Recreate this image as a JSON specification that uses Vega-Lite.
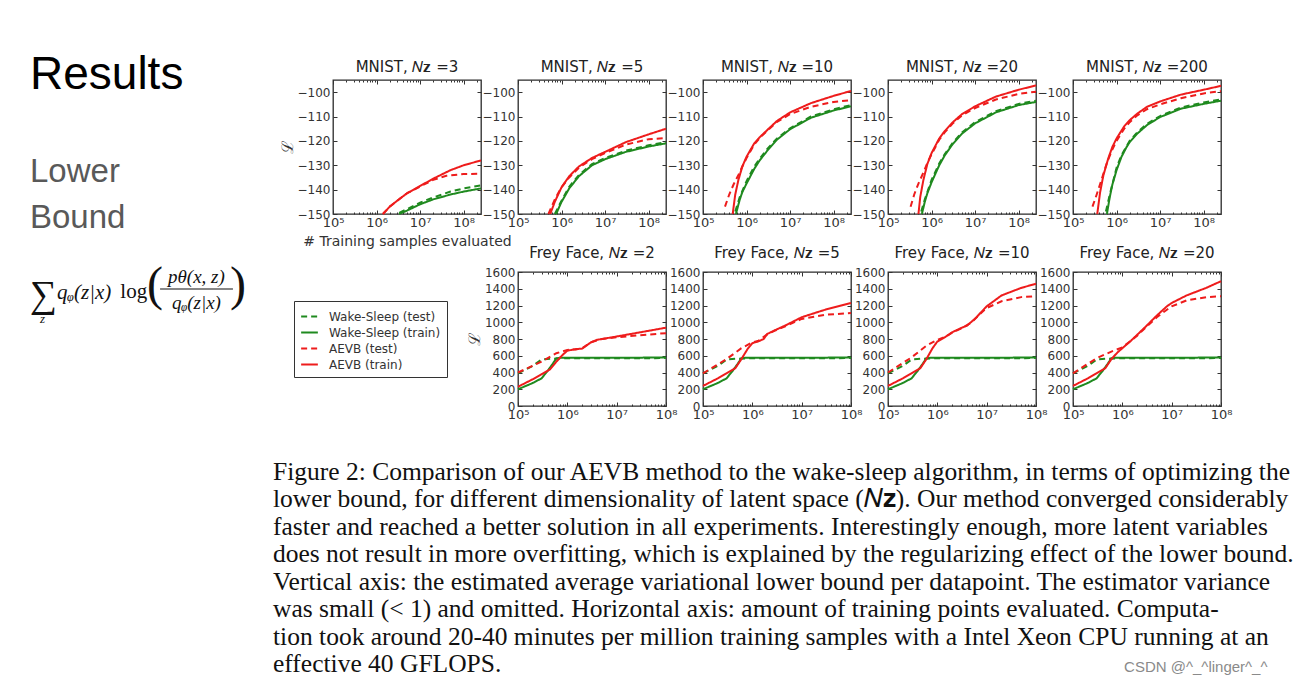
{
"$schema": "https://vega.github.io/schema/vega-lite/v6.json",
"background": "white",
"padding": {"left": 30, "top": 52, "right": 5, "bottom": 5},
"config": {
  "view": {"stroke": null},
  "font": "DejaVu Sans",
  "axis": {"labelFont": "DejaVu Sans", "labelFontSize": 12, "labelColor": "#333", "tickColor": "#333", "tickSize": -4, "labelPadding": 7, "domain": false, "grid": false, "titleFont": "DejaVu Sans", "titleFontWeight": "normal", "titleColor": "#333", "labelFlush": false, "labelOverlap": false},
  "axisX": {"labelFontSize": 13, "labelPadding": 6},
  "title": {"font": "DejaVu Sans", "fontSize": 15, "fontWeight": "normal", "color": "#222", "offset": 5},
  "line": {"strokeWidth": 2, "clip": true}
},
"datasets": {
  "mnist": [
    {"nz":3,"s":"Wake-Sleep (test)","x":3.3e6,"y":-149.5},{"nz":3,"s":"Wake-Sleep (test)","x":5e6,"y":-148},{"nz":3,"s":"Wake-Sleep (test)","x":1e7,"y":-145.3},{"nz":3,"s":"Wake-Sleep (test)","x":2e7,"y":-143.2},{"nz":3,"s":"Wake-Sleep (test)","x":5e7,"y":-140.8},{"nz":3,"s":"Wake-Sleep (test)","x":1e8,"y":-139.5},{"nz":3,"s":"Wake-Sleep (test)","x":2.5e8,"y":-138.2},
    {"nz":3,"s":"Wake-Sleep (train)","x":3.3e6,"y":-150},{"nz":3,"s":"Wake-Sleep (train)","x":5e6,"y":-148.6},{"nz":3,"s":"Wake-Sleep (train)","x":1e7,"y":-146},{"nz":3,"s":"Wake-Sleep (train)","x":2e7,"y":-144},{"nz":3,"s":"Wake-Sleep (train)","x":5e7,"y":-142},{"nz":3,"s":"Wake-Sleep (train)","x":1e8,"y":-140.8},{"nz":3,"s":"Wake-Sleep (train)","x":2.5e8,"y":-139.5},
    {"nz":3,"s":"AEVB (test)","x":1.4e6,"y":-150},{"nz":3,"s":"AEVB (test)","x":2e6,"y":-147},{"nz":3,"s":"AEVB (test)","x":3e6,"y":-144.5},{"nz":3,"s":"AEVB (test)","x":5e6,"y":-141.5},{"nz":3,"s":"AEVB (test)","x":1e7,"y":-138.7},{"nz":3,"s":"AEVB (test)","x":2e7,"y":-136},{"nz":3,"s":"AEVB (test)","x":4e7,"y":-134.3},{"nz":3,"s":"AEVB (test)","x":1e8,"y":-133.6},{"nz":3,"s":"AEVB (test)","x":2.5e8,"y":-133.5},
    {"nz":3,"s":"AEVB (train)","x":1.4e6,"y":-150},{"nz":3,"s":"AEVB (train)","x":2e6,"y":-147},{"nz":3,"s":"AEVB (train)","x":3e6,"y":-144.5},{"nz":3,"s":"AEVB (train)","x":5e6,"y":-141.5},{"nz":3,"s":"AEVB (train)","x":1e7,"y":-138.5},{"nz":3,"s":"AEVB (train)","x":2e7,"y":-135.5},{"nz":3,"s":"AEVB (train)","x":5e7,"y":-132},{"nz":3,"s":"AEVB (train)","x":1e8,"y":-130},{"nz":3,"s":"AEVB (train)","x":2.5e8,"y":-128},

    {"nz":5,"s":"Wake-Sleep (test)","x":7e5,"y":-150},{"nz":5,"s":"Wake-Sleep (test)","x":1e6,"y":-144.5},{"nz":5,"s":"Wake-Sleep (test)","x":1.5e6,"y":-138.8},{"nz":5,"s":"Wake-Sleep (test)","x":2.5e6,"y":-134},{"nz":5,"s":"Wake-Sleep (test)","x":5e6,"y":-129.5},{"nz":5,"s":"Wake-Sleep (test)","x":1e7,"y":-127},{"nz":5,"s":"Wake-Sleep (test)","x":3e7,"y":-124},{"nz":5,"s":"Wake-Sleep (test)","x":1e8,"y":-121.8},{"nz":5,"s":"Wake-Sleep (test)","x":2.5e8,"y":-120.5},
    {"nz":5,"s":"Wake-Sleep (train)","x":7.5e5,"y":-150},{"nz":5,"s":"Wake-Sleep (train)","x":1e6,"y":-145},{"nz":5,"s":"Wake-Sleep (train)","x":1.5e6,"y":-139.5},{"nz":5,"s":"Wake-Sleep (train)","x":2.5e6,"y":-134.5},{"nz":5,"s":"Wake-Sleep (train)","x":5e6,"y":-130},{"nz":5,"s":"Wake-Sleep (train)","x":1e7,"y":-127.5},{"nz":5,"s":"Wake-Sleep (train)","x":3e7,"y":-124.5},{"nz":5,"s":"Wake-Sleep (train)","x":1e8,"y":-122.3},{"nz":5,"s":"Wake-Sleep (train)","x":2.5e8,"y":-121},
    {"nz":5,"s":"AEVB (test)","x":5e5,"y":-150},{"nz":5,"s":"AEVB (test)","x":7e5,"y":-144},{"nz":5,"s":"AEVB (test)","x":1e6,"y":-139},{"nz":5,"s":"AEVB (test)","x":1.5e6,"y":-135},{"nz":5,"s":"AEVB (test)","x":2.5e6,"y":-131},{"nz":5,"s":"AEVB (test)","x":5e6,"y":-127.5},{"nz":5,"s":"AEVB (test)","x":1e7,"y":-125},{"nz":5,"s":"AEVB (test)","x":3e7,"y":-121.5},{"nz":5,"s":"AEVB (test)","x":1e8,"y":-119.3},{"nz":5,"s":"AEVB (test)","x":2.5e8,"y":-118.8},
    {"nz":5,"s":"AEVB (train)","x":5.5e5,"y":-150},{"nz":5,"s":"AEVB (train)","x":7e5,"y":-145},{"nz":5,"s":"AEVB (train)","x":1e6,"y":-139},{"nz":5,"s":"AEVB (train)","x":1.5e6,"y":-134.5},{"nz":5,"s":"AEVB (train)","x":2.5e6,"y":-130.5},{"nz":5,"s":"AEVB (train)","x":5e6,"y":-127},{"nz":5,"s":"AEVB (train)","x":1e7,"y":-124.5},{"nz":5,"s":"AEVB (train)","x":3e7,"y":-120.5},{"nz":5,"s":"AEVB (train)","x":1e8,"y":-117.3},{"nz":5,"s":"AEVB (train)","x":2.5e8,"y":-115},

    {"nz":10,"s":"Wake-Sleep (test)","x":5.5e5,"y":-149},{"nz":10,"s":"Wake-Sleep (test)","x":7e5,"y":-143},{"nz":10,"s":"Wake-Sleep (test)","x":1e6,"y":-136.5},{"nz":10,"s":"Wake-Sleep (test)","x":1.5e6,"y":-130.5},{"nz":10,"s":"Wake-Sleep (test)","x":2e6,"y":-127.3},{"nz":10,"s":"Wake-Sleep (test)","x":3e6,"y":-123.3},{"nz":10,"s":"Wake-Sleep (test)","x":5e6,"y":-119},{"nz":10,"s":"Wake-Sleep (test)","x":1e7,"y":-114.8},{"nz":10,"s":"Wake-Sleep (test)","x":3e7,"y":-110},{"nz":10,"s":"Wake-Sleep (test)","x":1e8,"y":-107},{"nz":10,"s":"Wake-Sleep (test)","x":2.5e8,"y":-105.3},
    {"nz":10,"s":"Wake-Sleep (train)","x":5.7e5,"y":-150},{"nz":10,"s":"Wake-Sleep (train)","x":7e5,"y":-144},{"nz":10,"s":"Wake-Sleep (train)","x":8e5,"y":-141},{"nz":10,"s":"Wake-Sleep (train)","x":1e6,"y":-137.5},{"nz":10,"s":"Wake-Sleep (train)","x":1.5e6,"y":-131.5},{"nz":10,"s":"Wake-Sleep (train)","x":2e6,"y":-128},{"nz":10,"s":"Wake-Sleep (train)","x":3e6,"y":-124},{"nz":10,"s":"Wake-Sleep (train)","x":5e6,"y":-119.5},{"nz":10,"s":"Wake-Sleep (train)","x":1e7,"y":-115.2},{"nz":10,"s":"Wake-Sleep (train)","x":3e7,"y":-110.5},{"nz":10,"s":"Wake-Sleep (train)","x":1e8,"y":-107.5},{"nz":10,"s":"Wake-Sleep (train)","x":2.5e8,"y":-105.8},
    {"nz":10,"s":"AEVB (test)","x":3.2e5,"y":-147},{"nz":10,"s":"AEVB (test)","x":4e5,"y":-142},{"nz":10,"s":"AEVB (test)","x":5e5,"y":-138},{"nz":10,"s":"AEVB (test)","x":6.5e5,"y":-134},{"nz":10,"s":"AEVB (test)","x":8e5,"y":-130.5},{"nz":10,"s":"AEVB (test)","x":1e6,"y":-127},{"nz":10,"s":"AEVB (test)","x":1.5e6,"y":-121.5},{"nz":10,"s":"AEVB (test)","x":2e6,"y":-118.8},{"nz":10,"s":"AEVB (test)","x":3e6,"y":-115.8},{"nz":10,"s":"AEVB (test)","x":5e6,"y":-112.2},{"nz":10,"s":"AEVB (test)","x":1e7,"y":-109},{"nz":10,"s":"AEVB (test)","x":3e7,"y":-106},{"nz":10,"s":"AEVB (test)","x":1e8,"y":-104},{"nz":10,"s":"AEVB (test)","x":2.5e8,"y":-103.3},
    {"nz":10,"s":"AEVB (train)","x":4.8e5,"y":-150},{"nz":10,"s":"AEVB (train)","x":5.5e5,"y":-142},{"nz":10,"s":"AEVB (train)","x":6.5e5,"y":-136},{"nz":10,"s":"AEVB (train)","x":8e5,"y":-130.5},{"nz":10,"s":"AEVB (train)","x":1e6,"y":-126.5},{"nz":10,"s":"AEVB (train)","x":1.5e6,"y":-121},{"nz":10,"s":"AEVB (train)","x":2e6,"y":-118.5},{"nz":10,"s":"AEVB (train)","x":3e6,"y":-115.5},{"nz":10,"s":"AEVB (train)","x":5e6,"y":-111.8},{"nz":10,"s":"AEVB (train)","x":1e7,"y":-108.3},{"nz":10,"s":"AEVB (train)","x":3e7,"y":-104.5},{"nz":10,"s":"AEVB (train)","x":1e8,"y":-101.5},{"nz":10,"s":"AEVB (train)","x":2.5e8,"y":-99.5},

    {"nz":20,"s":"Wake-Sleep (test)","x":5.8e5,"y":-149},{"nz":20,"s":"Wake-Sleep (test)","x":7e5,"y":-144},{"nz":20,"s":"Wake-Sleep (test)","x":1e6,"y":-136},{"nz":20,"s":"Wake-Sleep (test)","x":1.5e6,"y":-129.3},{"nz":20,"s":"Wake-Sleep (test)","x":2e6,"y":-125.5},{"nz":20,"s":"Wake-Sleep (test)","x":3e6,"y":-121},{"nz":20,"s":"Wake-Sleep (test)","x":5e6,"y":-116.5},{"nz":20,"s":"Wake-Sleep (test)","x":1e7,"y":-112.3},{"nz":20,"s":"Wake-Sleep (test)","x":3e7,"y":-107.8},{"nz":20,"s":"Wake-Sleep (test)","x":1e8,"y":-104.8},{"nz":20,"s":"Wake-Sleep (test)","x":2.5e8,"y":-103.5},
    {"nz":20,"s":"Wake-Sleep (train)","x":6e5,"y":-150},{"nz":20,"s":"Wake-Sleep (train)","x":7e5,"y":-145},{"nz":20,"s":"Wake-Sleep (train)","x":8e5,"y":-141.5},{"nz":20,"s":"Wake-Sleep (train)","x":1e6,"y":-137},{"nz":20,"s":"Wake-Sleep (train)","x":1.5e6,"y":-130},{"nz":20,"s":"Wake-Sleep (train)","x":2e6,"y":-126},{"nz":20,"s":"Wake-Sleep (train)","x":3e6,"y":-121.5},{"nz":20,"s":"Wake-Sleep (train)","x":5e6,"y":-117},{"nz":20,"s":"Wake-Sleep (train)","x":1e7,"y":-112.8},{"nz":20,"s":"Wake-Sleep (train)","x":3e7,"y":-108.3},{"nz":20,"s":"Wake-Sleep (train)","x":1e8,"y":-105.3},{"nz":20,"s":"Wake-Sleep (train)","x":2.5e8,"y":-104},
    {"nz":20,"s":"AEVB (test)","x":3.3e5,"y":-147},{"nz":20,"s":"AEVB (test)","x":4e5,"y":-142},{"nz":20,"s":"AEVB (test)","x":5e5,"y":-137.5},{"nz":20,"s":"AEVB (test)","x":6.5e5,"y":-133},{"nz":20,"s":"AEVB (test)","x":8e5,"y":-129},{"nz":20,"s":"AEVB (test)","x":1e6,"y":-125.5},{"nz":20,"s":"AEVB (test)","x":1.5e6,"y":-119.5},{"nz":20,"s":"AEVB (test)","x":2e6,"y":-116.5},{"nz":20,"s":"AEVB (test)","x":3e6,"y":-113},{"nz":20,"s":"AEVB (test)","x":5e6,"y":-109.5},{"nz":20,"s":"AEVB (test)","x":1e7,"y":-106.5},{"nz":20,"s":"AEVB (test)","x":3e7,"y":-103},{"nz":20,"s":"AEVB (test)","x":1e8,"y":-100.7},{"nz":20,"s":"AEVB (test)","x":2.5e8,"y":-99.8},
    {"nz":20,"s":"AEVB (train)","x":5e5,"y":-150},{"nz":20,"s":"AEVB (train)","x":5.5e5,"y":-143},{"nz":20,"s":"AEVB (train)","x":6.5e5,"y":-136},{"nz":20,"s":"AEVB (train)","x":8e5,"y":-129.5},{"nz":20,"s":"AEVB (train)","x":1e6,"y":-125},{"nz":20,"s":"AEVB (train)","x":1.5e6,"y":-119},{"nz":20,"s":"AEVB (train)","x":2e6,"y":-116},{"nz":20,"s":"AEVB (train)","x":3e6,"y":-112.5},{"nz":20,"s":"AEVB (train)","x":5e6,"y":-109},{"nz":20,"s":"AEVB (train)","x":1e7,"y":-105.8},{"nz":20,"s":"AEVB (train)","x":3e7,"y":-101.8},{"nz":20,"s":"AEVB (train)","x":1e8,"y":-99},{"nz":20,"s":"AEVB (train)","x":2.5e8,"y":-97.2},

    {"nz":200,"s":"Wake-Sleep (test)","x":5.7e5,"y":-149},{"nz":200,"s":"Wake-Sleep (test)","x":7e5,"y":-142},{"nz":200,"s":"Wake-Sleep (test)","x":1e6,"y":-131},{"nz":200,"s":"Wake-Sleep (test)","x":1.3e6,"y":-125.8},{"nz":200,"s":"Wake-Sleep (test)","x":2e6,"y":-120},{"nz":200,"s":"Wake-Sleep (test)","x":3e6,"y":-116.5},{"nz":200,"s":"Wake-Sleep (test)","x":5e6,"y":-113},{"nz":200,"s":"Wake-Sleep (test)","x":1e7,"y":-109.8},{"nz":200,"s":"Wake-Sleep (test)","x":3e7,"y":-106.3},{"nz":200,"s":"Wake-Sleep (test)","x":1e8,"y":-104.2},{"nz":200,"s":"Wake-Sleep (test)","x":2.5e8,"y":-103},
    {"nz":200,"s":"Wake-Sleep (train)","x":6e5,"y":-150},{"nz":200,"s":"Wake-Sleep (train)","x":7e5,"y":-143},{"nz":200,"s":"Wake-Sleep (train)","x":8e5,"y":-138},{"nz":200,"s":"Wake-Sleep (train)","x":1e6,"y":-132},{"nz":200,"s":"Wake-Sleep (train)","x":1.3e6,"y":-126.5},{"nz":200,"s":"Wake-Sleep (train)","x":1.7e6,"y":-122.5},{"nz":200,"s":"Wake-Sleep (train)","x":2e6,"y":-120.5},{"nz":200,"s":"Wake-Sleep (train)","x":3e6,"y":-117},{"nz":200,"s":"Wake-Sleep (train)","x":5e6,"y":-113.5},{"nz":200,"s":"Wake-Sleep (train)","x":1e7,"y":-110.2},{"nz":200,"s":"Wake-Sleep (train)","x":3e7,"y":-106.8},{"nz":200,"s":"Wake-Sleep (train)","x":1e8,"y":-104.8},{"nz":200,"s":"Wake-Sleep (train)","x":2.5e8,"y":-103.5},
    {"nz":200,"s":"AEVB (test)","x":2.8e5,"y":-147},{"nz":200,"s":"AEVB (test)","x":3.5e5,"y":-142},{"nz":200,"s":"AEVB (test)","x":4.5e5,"y":-136},{"nz":200,"s":"AEVB (test)","x":6e5,"y":-129},{"nz":200,"s":"AEVB (test)","x":8e5,"y":-123.5},{"nz":200,"s":"AEVB (test)","x":1e6,"y":-120},{"nz":200,"s":"AEVB (test)","x":1.5e6,"y":-115},{"nz":200,"s":"AEVB (test)","x":2e6,"y":-112.3},{"nz":200,"s":"AEVB (test)","x":3e6,"y":-109.5},{"nz":200,"s":"AEVB (test)","x":5e6,"y":-107},{"nz":200,"s":"AEVB (test)","x":1e7,"y":-105},{"nz":200,"s":"AEVB (test)","x":3e7,"y":-102.5},{"nz":200,"s":"AEVB (test)","x":1e8,"y":-100.5},{"nz":200,"s":"AEVB (test)","x":2.5e8,"y":-99.6},
    {"nz":200,"s":"AEVB (train)","x":3.6e5,"y":-150},{"nz":200,"s":"AEVB (train)","x":4.2e5,"y":-141},{"nz":200,"s":"AEVB (train)","x":5e5,"y":-134},{"nz":200,"s":"AEVB (train)","x":6.5e5,"y":-127},{"nz":200,"s":"AEVB (train)","x":8e5,"y":-122.5},{"nz":200,"s":"AEVB (train)","x":1e6,"y":-119},{"nz":200,"s":"AEVB (train)","x":1.5e6,"y":-114},{"nz":200,"s":"AEVB (train)","x":2e6,"y":-111.5},{"nz":200,"s":"AEVB (train)","x":3e6,"y":-108.8},{"nz":200,"s":"AEVB (train)","x":5e6,"y":-106},{"nz":200,"s":"AEVB (train)","x":1e7,"y":-103.8},{"nz":200,"s":"AEVB (train)","x":3e7,"y":-101},{"nz":200,"s":"AEVB (train)","x":1e8,"y":-99},{"nz":200,"s":"AEVB (train)","x":2.5e8,"y":-97.4}
  ],
  "frey": [
    {"nz":2,"s":"Wake-Sleep (test)","x":1e5,"y":390},{"nz":2,"s":"Wake-Sleep (test)","x":2e5,"y":480},{"nz":2,"s":"Wake-Sleep (test)","x":3e5,"y":555},{"nz":2,"s":"Wake-Sleep (test)","x":5e5,"y":565},{"nz":2,"s":"Wake-Sleep (test)","x":1e6,"y":570},{"nz":2,"s":"Wake-Sleep (test)","x":1e7,"y":570},{"nz":2,"s":"Wake-Sleep (test)","x":1e8,"y":572},
    {"nz":2,"s":"Wake-Sleep (train)","x":1e5,"y":200},{"nz":2,"s":"Wake-Sleep (train)","x":2e5,"y":275},{"nz":2,"s":"Wake-Sleep (train)","x":3e5,"y":330},{"nz":2,"s":"Wake-Sleep (train)","x":4e5,"y":420},{"nz":2,"s":"Wake-Sleep (train)","x":5e5,"y":500},{"nz":2,"s":"Wake-Sleep (train)","x":6e5,"y":570},{"nz":2,"s":"Wake-Sleep (train)","x":7e5,"y":575},{"nz":2,"s":"Wake-Sleep (train)","x":1e6,"y":575},{"nz":2,"s":"Wake-Sleep (train)","x":1e7,"y":575},{"nz":2,"s":"Wake-Sleep (train)","x":1e8,"y":580},
    {"nz":2,"s":"AEVB (test)","x":1e5,"y":400},{"nz":2,"s":"AEVB (test)","x":3e5,"y":530},{"nz":2,"s":"AEVB (test)","x":6e5,"y":630},{"nz":2,"s":"AEVB (test)","x":1e6,"y":670},{"nz":2,"s":"AEVB (test)","x":1.5e6,"y":675},{"nz":2,"s":"AEVB (test)","x":2e6,"y":690},{"nz":2,"s":"AEVB (test)","x":3e6,"y":760},{"nz":2,"s":"AEVB (test)","x":5e6,"y":800},{"nz":2,"s":"AEVB (test)","x":1e7,"y":820},{"nz":2,"s":"AEVB (test)","x":3e7,"y":845},{"nz":2,"s":"AEVB (test)","x":1e8,"y":870},
    {"nz":2,"s":"AEVB (train)","x":1e5,"y":230},{"nz":2,"s":"AEVB (train)","x":2e5,"y":320},{"nz":2,"s":"AEVB (train)","x":3e5,"y":380},{"nz":2,"s":"AEVB (train)","x":4.5e5,"y":440},{"nz":2,"s":"AEVB (train)","x":6e5,"y":530},{"nz":2,"s":"AEVB (train)","x":8e5,"y":610},{"nz":2,"s":"AEVB (train)","x":1e6,"y":660},{"nz":2,"s":"AEVB (train)","x":1.5e6,"y":680},{"nz":2,"s":"AEVB (train)","x":2e6,"y":685},{"nz":2,"s":"AEVB (train)","x":3e6,"y":760},{"nz":2,"s":"AEVB (train)","x":4e6,"y":790},{"nz":2,"s":"AEVB (train)","x":1e7,"y":830},{"nz":2,"s":"AEVB (train)","x":3e7,"y":880},{"nz":2,"s":"AEVB (train)","x":1e8,"y":935},

    {"nz":5,"s":"Wake-Sleep (test)","x":1e5,"y":390},{"nz":5,"s":"Wake-Sleep (test)","x":2e5,"y":480},{"nz":5,"s":"Wake-Sleep (test)","x":3e5,"y":555},{"nz":5,"s":"Wake-Sleep (test)","x":5e5,"y":565},{"nz":5,"s":"Wake-Sleep (test)","x":1e6,"y":570},{"nz":5,"s":"Wake-Sleep (test)","x":1e7,"y":570},{"nz":5,"s":"Wake-Sleep (test)","x":1e8,"y":572},
    {"nz":5,"s":"Wake-Sleep (train)","x":1e5,"y":200},{"nz":5,"s":"Wake-Sleep (train)","x":2e5,"y":275},{"nz":5,"s":"Wake-Sleep (train)","x":3e5,"y":330},{"nz":5,"s":"Wake-Sleep (train)","x":4e5,"y":420},{"nz":5,"s":"Wake-Sleep (train)","x":5e5,"y":500},{"nz":5,"s":"Wake-Sleep (train)","x":6e5,"y":570},{"nz":5,"s":"Wake-Sleep (train)","x":7e5,"y":575},{"nz":5,"s":"Wake-Sleep (train)","x":1e6,"y":575},{"nz":5,"s":"Wake-Sleep (train)","x":1e7,"y":575},{"nz":5,"s":"Wake-Sleep (train)","x":1e8,"y":580},
    {"nz":5,"s":"AEVB (test)","x":1e5,"y":390},{"nz":5,"s":"AEVB (test)","x":3e5,"y":560},{"nz":5,"s":"AEVB (test)","x":6e5,"y":690},{"nz":5,"s":"AEVB (test)","x":1e6,"y":760},{"nz":5,"s":"AEVB (test)","x":1.3e6,"y":775},{"nz":5,"s":"AEVB (test)","x":2e6,"y":855},{"nz":5,"s":"AEVB (test)","x":3e6,"y":905},{"nz":5,"s":"AEVB (test)","x":5e6,"y":960},{"nz":5,"s":"AEVB (test)","x":1e7,"y":1040},{"nz":5,"s":"AEVB (test)","x":3e7,"y":1090},{"nz":5,"s":"AEVB (test)","x":1e8,"y":1110},
    {"nz":5,"s":"AEVB (train)","x":1e5,"y":240},{"nz":5,"s":"AEVB (train)","x":2e5,"y":330},{"nz":5,"s":"AEVB (train)","x":3e5,"y":390},{"nz":5,"s":"AEVB (train)","x":4.5e5,"y":450},{"nz":5,"s":"AEVB (train)","x":6e5,"y":560},{"nz":5,"s":"AEVB (train)","x":8e5,"y":680},{"nz":5,"s":"AEVB (train)","x":1e6,"y":750},{"nz":5,"s":"AEVB (train)","x":1.3e6,"y":770},{"nz":5,"s":"AEVB (train)","x":1.7e6,"y":800},{"nz":5,"s":"AEVB (train)","x":2e6,"y":860},{"nz":5,"s":"AEVB (train)","x":3e6,"y":910},{"nz":5,"s":"AEVB (train)","x":5e6,"y":970},{"nz":5,"s":"AEVB (train)","x":1e7,"y":1060},{"nz":5,"s":"AEVB (train)","x":3e7,"y":1150},{"nz":5,"s":"AEVB (train)","x":1e8,"y":1230},

    {"nz":10,"s":"Wake-Sleep (test)","x":1e5,"y":390},{"nz":10,"s":"Wake-Sleep (test)","x":2e5,"y":480},{"nz":10,"s":"Wake-Sleep (test)","x":3e5,"y":555},{"nz":10,"s":"Wake-Sleep (test)","x":5e5,"y":565},{"nz":10,"s":"Wake-Sleep (test)","x":1e6,"y":570},{"nz":10,"s":"Wake-Sleep (test)","x":1e7,"y":570},{"nz":10,"s":"Wake-Sleep (test)","x":1e8,"y":572},
    {"nz":10,"s":"Wake-Sleep (train)","x":1e5,"y":200},{"nz":10,"s":"Wake-Sleep (train)","x":2e5,"y":275},{"nz":10,"s":"Wake-Sleep (train)","x":3e5,"y":330},{"nz":10,"s":"Wake-Sleep (train)","x":4e5,"y":420},{"nz":10,"s":"Wake-Sleep (train)","x":5e5,"y":500},{"nz":10,"s":"Wake-Sleep (train)","x":6e5,"y":570},{"nz":10,"s":"Wake-Sleep (train)","x":7e5,"y":575},{"nz":10,"s":"Wake-Sleep (train)","x":1e6,"y":575},{"nz":10,"s":"Wake-Sleep (train)","x":1e7,"y":575},{"nz":10,"s":"Wake-Sleep (train)","x":1e8,"y":580},
    {"nz":10,"s":"AEVB (test)","x":1e5,"y":400},{"nz":10,"s":"AEVB (test)","x":3e5,"y":580},{"nz":10,"s":"AEVB (test)","x":6e5,"y":720},{"nz":10,"s":"AEVB (test)","x":1e6,"y":790},{"nz":10,"s":"AEVB (test)","x":1.5e6,"y":830},{"nz":10,"s":"AEVB (test)","x":2e6,"y":875},{"nz":10,"s":"AEVB (test)","x":3e6,"y":925},{"nz":10,"s":"AEVB (test)","x":5e6,"y":1000},{"nz":10,"s":"AEVB (test)","x":8e6,"y":1120},{"nz":10,"s":"AEVB (test)","x":1e7,"y":1170},{"nz":10,"s":"AEVB (test)","x":2e7,"y":1250},{"nz":10,"s":"AEVB (test)","x":5e7,"y":1300},{"nz":10,"s":"AEVB (test)","x":1e8,"y":1310},
    {"nz":10,"s":"AEVB (train)","x":1e5,"y":240},{"nz":10,"s":"AEVB (train)","x":2e5,"y":330},{"nz":10,"s":"AEVB (train)","x":3e5,"y":390},{"nz":10,"s":"AEVB (train)","x":4.5e5,"y":450},{"nz":10,"s":"AEVB (train)","x":6e5,"y":560},{"nz":10,"s":"AEVB (train)","x":8e5,"y":690},{"nz":10,"s":"AEVB (train)","x":1e6,"y":770},{"nz":10,"s":"AEVB (train)","x":1.5e6,"y":830},{"nz":10,"s":"AEVB (train)","x":2e6,"y":880},{"nz":10,"s":"AEVB (train)","x":3e6,"y":930},{"nz":10,"s":"AEVB (train)","x":4e6,"y":960},{"nz":10,"s":"AEVB (train)","x":6e6,"y":1050},{"nz":10,"s":"AEVB (train)","x":8e6,"y":1130},{"nz":10,"s":"AEVB (train)","x":1e7,"y":1190},{"nz":10,"s":"AEVB (train)","x":2e7,"y":1320},{"nz":10,"s":"AEVB (train)","x":5e7,"y":1410},{"nz":10,"s":"AEVB (train)","x":1e8,"y":1460},

    {"nz":20,"s":"Wake-Sleep (test)","x":1e5,"y":390},{"nz":20,"s":"Wake-Sleep (test)","x":2e5,"y":480},{"nz":20,"s":"Wake-Sleep (test)","x":3e5,"y":555},{"nz":20,"s":"Wake-Sleep (test)","x":5e5,"y":565},{"nz":20,"s":"Wake-Sleep (test)","x":1e6,"y":570},{"nz":20,"s":"Wake-Sleep (test)","x":1e7,"y":570},{"nz":20,"s":"Wake-Sleep (test)","x":1e8,"y":572},
    {"nz":20,"s":"Wake-Sleep (train)","x":1e5,"y":200},{"nz":20,"s":"Wake-Sleep (train)","x":2e5,"y":275},{"nz":20,"s":"Wake-Sleep (train)","x":3e5,"y":330},{"nz":20,"s":"Wake-Sleep (train)","x":4e5,"y":420},{"nz":20,"s":"Wake-Sleep (train)","x":5e5,"y":500},{"nz":20,"s":"Wake-Sleep (train)","x":6e5,"y":570},{"nz":20,"s":"Wake-Sleep (train)","x":7e5,"y":575},{"nz":20,"s":"Wake-Sleep (train)","x":1e6,"y":575},{"nz":20,"s":"Wake-Sleep (train)","x":1e7,"y":575},{"nz":20,"s":"Wake-Sleep (train)","x":1e8,"y":580},
    {"nz":20,"s":"AEVB (test)","x":1e5,"y":390},{"nz":20,"s":"AEVB (test)","x":3e5,"y":570},{"nz":20,"s":"AEVB (test)","x":6e5,"y":650},{"nz":20,"s":"AEVB (test)","x":1e6,"y":700},{"nz":20,"s":"AEVB (test)","x":1.5e6,"y":780},{"nz":20,"s":"AEVB (test)","x":2e6,"y":840},{"nz":20,"s":"AEVB (test)","x":3e6,"y":940},{"nz":20,"s":"AEVB (test)","x":5e6,"y":1060},{"nz":20,"s":"AEVB (test)","x":8e6,"y":1150},{"nz":20,"s":"AEVB (test)","x":1e7,"y":1190},{"nz":20,"s":"AEVB (test)","x":2e7,"y":1260},{"nz":20,"s":"AEVB (test)","x":5e7,"y":1300},{"nz":20,"s":"AEVB (test)","x":1e8,"y":1310},
    {"nz":20,"s":"AEVB (train)","x":1e5,"y":240},{"nz":20,"s":"AEVB (train)","x":2e5,"y":330},{"nz":20,"s":"AEVB (train)","x":3e5,"y":390},{"nz":20,"s":"AEVB (train)","x":4.5e5,"y":450},{"nz":20,"s":"AEVB (train)","x":6e5,"y":560},{"nz":20,"s":"AEVB (train)","x":8e5,"y":640},{"nz":20,"s":"AEVB (train)","x":1e6,"y":690},{"nz":20,"s":"AEVB (train)","x":1.5e6,"y":780},{"nz":20,"s":"AEVB (train)","x":2e6,"y":850},{"nz":20,"s":"AEVB (train)","x":3e6,"y":950},{"nz":20,"s":"AEVB (train)","x":5e6,"y":1080},{"nz":20,"s":"AEVB (train)","x":8e6,"y":1190},{"nz":20,"s":"AEVB (train)","x":1e7,"y":1230},{"nz":20,"s":"AEVB (train)","x":2e7,"y":1320},{"nz":20,"s":"AEVB (train)","x":5e7,"y":1410},{"nz":20,"s":"AEVB (train)","x":1e8,"y":1490}
  ],
  "caption": [
    {"line":1,"text":"Figure 2: Comparison of our AEVB method to the wake-sleep algorithm, in terms of optimizing the"},
    {"line":2,"text":"lower bound, for different dimensionality of latent space (𝑁𝐳). Our method converged considerably"},
    {"line":3,"text":"faster and reached a better solution in all experiments. Interestingly enough, more latent variables"},
    {"line":4,"text":"does not result in more overfitting, which is explained by the regularizing effect of the lower bound."},
    {"line":5,"text":"Vertical axis: the estimated average variational lower bound per datapoint. The estimator variance"},
    {"line":6,"text":"was small (< 1) and omitted. Horizontal axis: amount of training points evaluated. Computa-"},
    {"line":7,"text":"tion took around 20-40 minutes per million training samples with a Intel Xeon CPU running at an"},
    {"line":8,"text":"effective 40 GFLOPS."}
  ]
},
"bounds": "flush",
"spacing": 385,
"resolve": {"scale": {"color": "independent", "strokeDash": "independent"}, "legend": {"color": "independent", "strokeDash": "independent"}},
"vconcat": [
 {
  "bounds": "flush",
  "spacing": 28,
  "resolve": {"scale": {"color": "independent", "strokeDash": "independent"}, "legend": {"color": "independent", "strokeDash": "independent"}},
  "hconcat": [
  {
    "width": 215, "height": 230,
    "layer": [
      {"data": {"values": [{"t": "Results", "slot": "a"}]},
       "mark": {"type": "text", "align": "left", "baseline": "middle", "font": "Liberation Sans", "fontSize": 46, "color": "#000", "dy": -5},
       "encoding": {"x": {"datum": 0, "type": "quantitative", "scale": {"domain": [0, 1]}, "axis": null},
                    "y": {"field": "slot", "type": "ordinal", "scale": {"type": "point", "padding": 0, "domain": ["a","b","c","d","e","f"]}, "axis": null},
                    "text": {"field": "t"}}},
      {"data": {"values": [{"t": "Lower", "slot": "c"}, {"t": "Bound", "slot": "d"}]},
       "mark": {"type": "text", "align": "left", "baseline": "middle", "font": "Liberation Sans", "fontSize": 33, "color": "#595959"},
       "encoding": {"x": {"datum": 0, "type": "quantitative", "axis": null}, "y": {"field": "slot", "type": "ordinal", "axis": null}, "text": {"field": "t"}}},
      {"data": {"values": [{"t": "∑", "slot": "f"}]},
       "mark": {"type": "text", "align": "left", "baseline": "middle", "font": "Liberation Serif", "fontSize": 38, "color": "#111", "dy": -14},
       "encoding": {"x": {"datum": 0, "type": "quantitative", "axis": null}, "y": {"field": "slot", "type": "ordinal", "axis": null}, "text": {"field": "t"}}},
      {"data": {"values": [{"t": "z", "slot": "f"}]},
       "mark": {"type": "text", "align": "center", "baseline": "middle", "font": "Liberation Serif", "fontStyle": "italic", "fontSize": 13, "color": "#111", "dy": 9},
       "encoding": {"x": {"datum": 0.058, "type": "quantitative", "axis": null}, "y": {"field": "slot", "type": "ordinal", "axis": null}, "text": {"field": "t"}}},
      {"data": {"values": [{"t": "qᵩ(z|x)", "slot": "f"}]},
       "mark": {"type": "text", "align": "left", "baseline": "middle", "font": "Liberation Serif", "fontStyle": "italic", "fontSize": 21, "color": "#111", "dy": -17},
       "encoding": {"x": {"datum": 0.126, "type": "quantitative", "axis": null}, "y": {"field": "slot", "type": "ordinal", "axis": null}, "text": {"field": "t"}}},
      {"data": {"values": [{"t": "log", "slot": "f"}]},
       "mark": {"type": "text", "align": "left", "baseline": "middle", "font": "Liberation Serif", "fontSize": 21, "color": "#111", "dy": -18},
       "encoding": {"x": {"datum": 0.42, "type": "quantitative", "axis": null}, "y": {"field": "slot", "type": "ordinal", "axis": null}, "text": {"field": "t"}}},
      {"data": {"values": [{"t": "(", "slot": "f"}]},
       "mark": {"type": "text", "align": "left", "baseline": "middle", "font": "Liberation Serif", "fontSize": 48, "color": "#111", "dy": -24},
       "encoding": {"x": {"datum": 0.544, "type": "quantitative", "axis": null}, "y": {"field": "slot", "type": "ordinal", "axis": null}, "text": {"field": "t"}}},
      {"data": {"values": [{"t": ")", "slot": "f"}]},
       "mark": {"type": "text", "align": "left", "baseline": "middle", "font": "Liberation Serif", "fontSize": 48, "color": "#111", "dy": -24},
       "encoding": {"x": {"datum": 0.93, "type": "quantitative", "axis": null}, "y": {"field": "slot", "type": "ordinal", "axis": null}, "text": {"field": "t"}}},
      {"data": {"values": [{"t": "pθ(x, z)", "slot": "f"}]},
       "mark": {"type": "text", "align": "center", "baseline": "middle", "font": "Liberation Serif", "fontStyle": "italic", "fontSize": 19, "color": "#111", "dy": -33},
       "encoding": {"x": {"datum": 0.774, "type": "quantitative", "axis": null}, "y": {"field": "slot", "type": "ordinal", "axis": null}, "text": {"field": "t"}}},
      {"data": {"values": [{"t": "qᵩ(z|x)", "slot": "f"}]},
       "mark": {"type": "text", "align": "center", "baseline": "middle", "font": "Liberation Serif", "fontStyle": "italic", "fontSize": 19, "color": "#111", "dy": -7},
       "encoding": {"x": {"datum": 0.774, "type": "quantitative", "axis": null}, "y": {"field": "slot", "type": "ordinal", "axis": null}, "text": {"field": "t"}}},
      {"data": {"values": [{"slot": "f"}]},
       "mark": {"type": "rule", "color": "#111", "strokeWidth": 1.2, "yOffset": -21},
       "encoding": {"x": {"datum": 0.605, "type": "quantitative", "axis": null}, "x2": {"datum": 0.944}, "y": {"field": "slot", "type": "ordinal", "axis": null}}}
    ]
  },
  {
    "columns": 6,
    "bounds": "flush",
    "spacing": {"row": 58, "column": 37},
    "resolve": {"scale": {"color": "independent", "strokeDash": "independent"}, "legend": {"color": "independent", "strokeDash": "independent"}},
    "concat": [
      {"width": 23, "height": 134, "data": {"values": []}, "mark": "point"},
      {"width": 148, "height": 134, "view": {"stroke": "#2a2a2a", "strokeWidth": 1.3},
       "title": "MNIST, 𝑁𝐳 =3",
       "data": {"name": "mnist"}, "transform": [{"filter": "datum.nz == 3"}],
       "resolve": {"axis": {"x": "independent", "y": "independent"}},
       "layer": [
        {"mark": {"type": "line"},
         "encoding": {
         "x": {"field": "x", "type": "quantitative", "scale": {"type": "log", "domain": [1e5, 2.5e8], "nice": false}, "axis": {"values": [1e5,2e5,3e5,4e5,5e5,6e5,7e5,8e5,9e5,1e6,2e6,3e6,4e6,5e6,6e6,7e6,8e6,9e6,1e7,2e7,3e7,4e7,5e7,6e7,7e7,8e7,9e7,1e8,2e8], "labelExpr": "abs(log(datum.value)/LN10 - round(log(datum.value)/LN10)) < 0.001 ? '10' + substring('⁰¹²³⁴⁵⁶⁷⁸⁹', round(log(datum.value)/LN10), round(log(datum.value)/LN10)+1) : ''", "tickSize": {"condition": {"test": "abs(log(datum.value)/LN10 - round(log(datum.value)/LN10)) < 0.001", "value": -4}, "value": -2}, "title": "# Training samples evaluated", "titleFontSize": 14, "titlePadding": 3}},
         "y": {"field": "y", "type": "quantitative", "scale": {"domain": [-150, -95], "nice": false, "zero": false}, "axis": {"values": [-150, -140, -130, -120, -110, -100], "title": "ℒ", "titleFont": "DejaVu Serif", "titleFontSize": 16, "titlePadding": 2}},
         "color": {"field": "s", "type": "nominal", "scale": {"domain": ["Wake-Sleep (test)", "Wake-Sleep (train)", "AEVB (test)", "AEVB (train)"], "range": ["#1f8a1f", "#1f8a1f", "#ee1c1c", "#ee1c1c"]}, "legend": null},
         "strokeDash": {"field": "s", "type": "nominal", "scale": {"domain": ["Wake-Sleep (test)", "Wake-Sleep (train)", "AEVB (test)", "AEVB (train)"], "range": [[6, 4], [1, 0], [6, 4], [1, 0]]}, "legend": null}}},
        {"mark": {"type": "point", "opacity": 0},
         "encoding": {
         "x": {"field": "x", "type": "quantitative", "axis": {"orient": "top", "labels": false, "title": null, "values": [1e5,2e5,3e5,4e5,5e5,6e5,7e5,8e5,9e5,1e6,2e6,3e6,4e6,5e6,6e6,7e6,8e6,9e6,1e7,2e7,3e7,4e7,5e7,6e7,7e7,8e7,9e7,1e8,2e8], "tickSize": {"condition": {"test": "abs(log(datum.value)/LN10 - round(log(datum.value)/LN10)) < 0.001", "value": -4}, "value": -2}}},
         "y": {"field": "y", "type": "quantitative", "axis": {"orient": "right", "labels": false, "title": null, "values": [-150, -140, -130, -120, -110, -100]}}}}
       ]},
      {"width": 148, "height": 134, "view": {"stroke": "#2a2a2a", "strokeWidth": 1.3},
       "title": "MNIST, 𝑁𝐳 =5",
       "data": {"name": "mnist"}, "transform": [{"filter": "datum.nz == 5"}],
       "resolve": {"axis": {"x": "independent", "y": "independent"}},
       "layer": [
        {"mark": {"type": "line"},
         "encoding": {
         "x": {"field": "x", "type": "quantitative", "scale": {"type": "log", "domain": [1e5, 2.5e8], "nice": false}, "axis": {"values": [1e5,2e5,3e5,4e5,5e5,6e5,7e5,8e5,9e5,1e6,2e6,3e6,4e6,5e6,6e6,7e6,8e6,9e6,1e7,2e7,3e7,4e7,5e7,6e7,7e7,8e7,9e7,1e8,2e8], "labelExpr": "abs(log(datum.value)/LN10 - round(log(datum.value)/LN10)) < 0.001 ? '10' + substring('⁰¹²³⁴⁵⁶⁷⁸⁹', round(log(datum.value)/LN10), round(log(datum.value)/LN10)+1) : ''", "tickSize": {"condition": {"test": "abs(log(datum.value)/LN10 - round(log(datum.value)/LN10)) < 0.001", "value": -4}, "value": -2}, "title": null}},
         "y": {"field": "y", "type": "quantitative", "scale": {"domain": [-150, -95], "nice": false, "zero": false}, "axis": {"values": [-150, -140, -130, -120, -110, -100], "title": null}},
         "color": {"field": "s", "type": "nominal", "scale": {"domain": ["Wake-Sleep (test)", "Wake-Sleep (train)", "AEVB (test)", "AEVB (train)"], "range": ["#1f8a1f", "#1f8a1f", "#ee1c1c", "#ee1c1c"]}, "legend": null},
         "strokeDash": {"field": "s", "type": "nominal", "scale": {"domain": ["Wake-Sleep (test)", "Wake-Sleep (train)", "AEVB (test)", "AEVB (train)"], "range": [[6, 4], [1, 0], [6, 4], [1, 0]]}, "legend": null}}},
        {"mark": {"type": "point", "opacity": 0},
         "encoding": {
         "x": {"field": "x", "type": "quantitative", "axis": {"orient": "top", "labels": false, "title": null, "values": [1e5,2e5,3e5,4e5,5e5,6e5,7e5,8e5,9e5,1e6,2e6,3e6,4e6,5e6,6e6,7e6,8e6,9e6,1e7,2e7,3e7,4e7,5e7,6e7,7e7,8e7,9e7,1e8,2e8], "tickSize": {"condition": {"test": "abs(log(datum.value)/LN10 - round(log(datum.value)/LN10)) < 0.001", "value": -4}, "value": -2}}},
         "y": {"field": "y", "type": "quantitative", "axis": {"orient": "right", "labels": false, "title": null, "values": [-150, -140, -130, -120, -110, -100]}}}}
       ]},
      {"width": 148, "height": 134, "view": {"stroke": "#2a2a2a", "strokeWidth": 1.3},
       "title": "MNIST, 𝑁𝐳 =10",
       "data": {"name": "mnist"}, "transform": [{"filter": "datum.nz == 10"}],
       "resolve": {"axis": {"x": "independent", "y": "independent"}},
       "layer": [
        {"mark": {"type": "line"},
         "encoding": {
         "x": {"field": "x", "type": "quantitative", "scale": {"type": "log", "domain": [1e5, 2.5e8], "nice": false}, "axis": {"values": [1e5,2e5,3e5,4e5,5e5,6e5,7e5,8e5,9e5,1e6,2e6,3e6,4e6,5e6,6e6,7e6,8e6,9e6,1e7,2e7,3e7,4e7,5e7,6e7,7e7,8e7,9e7,1e8,2e8], "labelExpr": "abs(log(datum.value)/LN10 - round(log(datum.value)/LN10)) < 0.001 ? '10' + substring('⁰¹²³⁴⁵⁶⁷⁸⁹', round(log(datum.value)/LN10), round(log(datum.value)/LN10)+1) : ''", "tickSize": {"condition": {"test": "abs(log(datum.value)/LN10 - round(log(datum.value)/LN10)) < 0.001", "value": -4}, "value": -2}, "title": null}},
         "y": {"field": "y", "type": "quantitative", "scale": {"domain": [-150, -95], "nice": false, "zero": false}, "axis": {"values": [-150, -140, -130, -120, -110, -100], "title": null}},
         "color": {"field": "s", "type": "nominal", "scale": {"domain": ["Wake-Sleep (test)", "Wake-Sleep (train)", "AEVB (test)", "AEVB (train)"], "range": ["#1f8a1f", "#1f8a1f", "#ee1c1c", "#ee1c1c"]}, "legend": null},
         "strokeDash": {"field": "s", "type": "nominal", "scale": {"domain": ["Wake-Sleep (test)", "Wake-Sleep (train)", "AEVB (test)", "AEVB (train)"], "range": [[6, 4], [1, 0], [6, 4], [1, 0]]}, "legend": null}}},
        {"mark": {"type": "point", "opacity": 0},
         "encoding": {
         "x": {"field": "x", "type": "quantitative", "axis": {"orient": "top", "labels": false, "title": null, "values": [1e5,2e5,3e5,4e5,5e5,6e5,7e5,8e5,9e5,1e6,2e6,3e6,4e6,5e6,6e6,7e6,8e6,9e6,1e7,2e7,3e7,4e7,5e7,6e7,7e7,8e7,9e7,1e8,2e8], "tickSize": {"condition": {"test": "abs(log(datum.value)/LN10 - round(log(datum.value)/LN10)) < 0.001", "value": -4}, "value": -2}}},
         "y": {"field": "y", "type": "quantitative", "axis": {"orient": "right", "labels": false, "title": null, "values": [-150, -140, -130, -120, -110, -100]}}}}
       ]},
      {"width": 148, "height": 134, "view": {"stroke": "#2a2a2a", "strokeWidth": 1.3},
       "title": "MNIST, 𝑁𝐳 =20",
       "data": {"name": "mnist"}, "transform": [{"filter": "datum.nz == 20"}],
       "resolve": {"axis": {"x": "independent", "y": "independent"}},
       "layer": [
        {"mark": {"type": "line"},
         "encoding": {
         "x": {"field": "x", "type": "quantitative", "scale": {"type": "log", "domain": [1e5, 2.5e8], "nice": false}, "axis": {"values": [1e5,2e5,3e5,4e5,5e5,6e5,7e5,8e5,9e5,1e6,2e6,3e6,4e6,5e6,6e6,7e6,8e6,9e6,1e7,2e7,3e7,4e7,5e7,6e7,7e7,8e7,9e7,1e8,2e8], "labelExpr": "abs(log(datum.value)/LN10 - round(log(datum.value)/LN10)) < 0.001 ? '10' + substring('⁰¹²³⁴⁵⁶⁷⁸⁹', round(log(datum.value)/LN10), round(log(datum.value)/LN10)+1) : ''", "tickSize": {"condition": {"test": "abs(log(datum.value)/LN10 - round(log(datum.value)/LN10)) < 0.001", "value": -4}, "value": -2}, "title": null}},
         "y": {"field": "y", "type": "quantitative", "scale": {"domain": [-150, -95], "nice": false, "zero": false}, "axis": {"values": [-150, -140, -130, -120, -110, -100], "title": null}},
         "color": {"field": "s", "type": "nominal", "scale": {"domain": ["Wake-Sleep (test)", "Wake-Sleep (train)", "AEVB (test)", "AEVB (train)"], "range": ["#1f8a1f", "#1f8a1f", "#ee1c1c", "#ee1c1c"]}, "legend": null},
         "strokeDash": {"field": "s", "type": "nominal", "scale": {"domain": ["Wake-Sleep (test)", "Wake-Sleep (train)", "AEVB (test)", "AEVB (train)"], "range": [[6, 4], [1, 0], [6, 4], [1, 0]]}, "legend": null}}},
        {"mark": {"type": "point", "opacity": 0},
         "encoding": {
         "x": {"field": "x", "type": "quantitative", "axis": {"orient": "top", "labels": false, "title": null, "values": [1e5,2e5,3e5,4e5,5e5,6e5,7e5,8e5,9e5,1e6,2e6,3e6,4e6,5e6,6e6,7e6,8e6,9e6,1e7,2e7,3e7,4e7,5e7,6e7,7e7,8e7,9e7,1e8,2e8], "tickSize": {"condition": {"test": "abs(log(datum.value)/LN10 - round(log(datum.value)/LN10)) < 0.001", "value": -4}, "value": -2}}},
         "y": {"field": "y", "type": "quantitative", "axis": {"orient": "right", "labels": false, "title": null, "values": [-150, -140, -130, -120, -110, -100]}}}}
       ]},
      {"width": 148, "height": 134, "view": {"stroke": "#2a2a2a", "strokeWidth": 1.3},
       "title": "MNIST, 𝑁𝐳 =200",
       "data": {"name": "mnist"}, "transform": [{"filter": "datum.nz == 200"}],
       "resolve": {"axis": {"x": "independent", "y": "independent"}},
       "layer": [
        {"mark": {"type": "line"},
         "encoding": {
         "x": {"field": "x", "type": "quantitative", "scale": {"type": "log", "domain": [1e5, 2.5e8], "nice": false}, "axis": {"values": [1e5,2e5,3e5,4e5,5e5,6e5,7e5,8e5,9e5,1e6,2e6,3e6,4e6,5e6,6e6,7e6,8e6,9e6,1e7,2e7,3e7,4e7,5e7,6e7,7e7,8e7,9e7,1e8,2e8], "labelExpr": "abs(log(datum.value)/LN10 - round(log(datum.value)/LN10)) < 0.001 ? '10' + substring('⁰¹²³⁴⁵⁶⁷⁸⁹', round(log(datum.value)/LN10), round(log(datum.value)/LN10)+1) : ''", "tickSize": {"condition": {"test": "abs(log(datum.value)/LN10 - round(log(datum.value)/LN10)) < 0.001", "value": -4}, "value": -2}, "title": null}},
         "y": {"field": "y", "type": "quantitative", "scale": {"domain": [-150, -95], "nice": false, "zero": false}, "axis": {"values": [-150, -140, -130, -120, -110, -100], "title": null}},
         "color": {"field": "s", "type": "nominal", "scale": {"domain": ["Wake-Sleep (test)", "Wake-Sleep (train)", "AEVB (test)", "AEVB (train)"], "range": ["#1f8a1f", "#1f8a1f", "#ee1c1c", "#ee1c1c"]}, "legend": null},
         "strokeDash": {"field": "s", "type": "nominal", "scale": {"domain": ["Wake-Sleep (test)", "Wake-Sleep (train)", "AEVB (test)", "AEVB (train)"], "range": [[6, 4], [1, 0], [6, 4], [1, 0]]}, "legend": null}}},
        {"mark": {"type": "point", "opacity": 0},
         "encoding": {
         "x": {"field": "x", "type": "quantitative", "axis": {"orient": "top", "labels": false, "title": null, "values": [1e5,2e5,3e5,4e5,5e5,6e5,7e5,8e5,9e5,1e6,2e6,3e6,4e6,5e6,6e6,7e6,8e6,9e6,1e7,2e7,3e7,4e7,5e7,6e7,7e7,8e7,9e7,1e8,2e8], "tickSize": {"condition": {"test": "abs(log(datum.value)/LN10 - round(log(datum.value)/LN10)) < 0.001", "value": -4}, "value": -2}}},
         "y": {"field": "y", "type": "quantitative", "axis": {"orient": "right", "labels": false, "title": null, "values": [-150, -140, -130, -120, -110, -100]}}}}
       ]},
      {"width": 23, "height": 134, "data": {"values": []}, "mark": "point"},
      {"width": 148, "height": 134,
       "data": {"values": [{"s": "Wake-Sleep (test)"}, {"s": "Wake-Sleep (train)"}, {"s": "AEVB (test)"}, {"s": "AEVB (train)"}]},
       "mark": {"type": "line"},
       "encoding": {
         "color": {"field": "s", "type": "nominal", "scale": {"domain": ["Wake-Sleep (test)", "Wake-Sleep (train)", "AEVB (test)", "AEVB (train)"], "range": ["#1f8a1f", "#1f8a1f", "#ee1c1c", "#ee1c1c"]},
           "legend": {"orient": "none", "legendX": -39, "legendY": 29, "title": null, "symbolType": "stroke", "symbolSize": 280, "symbolStrokeWidth": 2, "labelFont": "DejaVu Sans", "labelFontSize": 12, "labelColor": "#333", "labelOffset": 10, "strokeColor": "#333", "fillColor": "#fff", "padding": 6, "rowPadding": 0, "cornerRadius": 0}},
         "strokeDash": {"field": "s", "type": "nominal", "scale": {"domain": ["Wake-Sleep (test)", "Wake-Sleep (train)", "AEVB (test)", "AEVB (train)"], "range": [[6, 4], [1, 0], [6, 4], [1, 0]]},
           "legend": {"orient": "none", "legendX": -39, "legendY": 29, "title": null, "symbolType": "stroke", "symbolSize": 280, "symbolStrokeWidth": 2, "labelFont": "DejaVu Sans", "labelFontSize": 12, "labelColor": "#333", "labelOffset": 10, "strokeColor": "#333", "fillColor": "#fff", "padding": 6, "rowPadding": 0, "cornerRadius": 0}}
       }},
      {"width": 148, "height": 134, "view": {"stroke": "#2a2a2a", "strokeWidth": 1.3},
       "title": "Frey Face, 𝑁𝐳 =2",
       "data": {"name": "frey"}, "transform": [{"filter": "datum.nz == 2"}],
       "resolve": {"axis": {"x": "independent", "y": "independent"}},
       "layer": [
        {"mark": {"type": "line"},
         "encoding": {
         "x": {"field": "x", "type": "quantitative", "scale": {"type": "log", "domain": [1e5, 1e8], "nice": false}, "axis": {"values": [1e5,2e5,3e5,4e5,5e5,6e5,7e5,8e5,9e5,1e6,2e6,3e6,4e6,5e6,6e6,7e6,8e6,9e6,1e7,2e7,3e7,4e7,5e7,6e7,7e7,8e7,9e7,1e8], "labelExpr": "abs(log(datum.value)/LN10 - round(log(datum.value)/LN10)) < 0.001 ? '10' + substring('⁰¹²³⁴⁵⁶⁷⁸⁹', round(log(datum.value)/LN10), round(log(datum.value)/LN10)+1) : ''", "tickSize": {"condition": {"test": "abs(log(datum.value)/LN10 - round(log(datum.value)/LN10)) < 0.001", "value": -4}, "value": -2}, "title": null}},
         "y": {"field": "y", "type": "quantitative", "scale": {"domain": [0, 1600], "nice": false}, "axis": {"values": [0, 200, 400, 600, 800, 1000, 1200, 1400, 1600], "format": "d", "title": "ℒ", "titleFont": "DejaVu Serif", "titleFontSize": 16, "titlePadding": 2}},
         "color": {"field": "s", "type": "nominal", "scale": {"domain": ["Wake-Sleep (test)", "Wake-Sleep (train)", "AEVB (test)", "AEVB (train)"], "range": ["#1f8a1f", "#1f8a1f", "#ee1c1c", "#ee1c1c"]}, "legend": null},
         "strokeDash": {"field": "s", "type": "nominal", "scale": {"domain": ["Wake-Sleep (test)", "Wake-Sleep (train)", "AEVB (test)", "AEVB (train)"], "range": [[6, 4], [1, 0], [6, 4], [1, 0]]}, "legend": null}}},
        {"mark": {"type": "point", "opacity": 0},
         "encoding": {
         "x": {"field": "x", "type": "quantitative", "axis": {"orient": "top", "labels": false, "title": null, "values": [1e5,2e5,3e5,4e5,5e5,6e5,7e5,8e5,9e5,1e6,2e6,3e6,4e6,5e6,6e6,7e6,8e6,9e6,1e7,2e7,3e7,4e7,5e7,6e7,7e7,8e7,9e7,1e8], "tickSize": {"condition": {"test": "abs(log(datum.value)/LN10 - round(log(datum.value)/LN10)) < 0.001", "value": -4}, "value": -2}}},
         "y": {"field": "y", "type": "quantitative", "axis": {"orient": "right", "labels": false, "title": null, "values": [0, 200, 400, 600, 800, 1000, 1200, 1400, 1600]}}}}
       ]},
      {"width": 148, "height": 134, "view": {"stroke": "#2a2a2a", "strokeWidth": 1.3},
       "title": "Frey Face, 𝑁𝐳 =5",
       "data": {"name": "frey"}, "transform": [{"filter": "datum.nz == 5"}],
       "resolve": {"axis": {"x": "independent", "y": "independent"}},
       "layer": [
        {"mark": {"type": "line"},
         "encoding": {
         "x": {"field": "x", "type": "quantitative", "scale": {"type": "log", "domain": [1e5, 1e8], "nice": false}, "axis": {"values": [1e5,2e5,3e5,4e5,5e5,6e5,7e5,8e5,9e5,1e6,2e6,3e6,4e6,5e6,6e6,7e6,8e6,9e6,1e7,2e7,3e7,4e7,5e7,6e7,7e7,8e7,9e7,1e8], "labelExpr": "abs(log(datum.value)/LN10 - round(log(datum.value)/LN10)) < 0.001 ? '10' + substring('⁰¹²³⁴⁵⁶⁷⁸⁹', round(log(datum.value)/LN10), round(log(datum.value)/LN10)+1) : ''", "tickSize": {"condition": {"test": "abs(log(datum.value)/LN10 - round(log(datum.value)/LN10)) < 0.001", "value": -4}, "value": -2}, "title": null}},
         "y": {"field": "y", "type": "quantitative", "scale": {"domain": [0, 1600], "nice": false}, "axis": {"values": [0, 200, 400, 600, 800, 1000, 1200, 1400, 1600], "format": "d", "title": null}},
         "color": {"field": "s", "type": "nominal", "scale": {"domain": ["Wake-Sleep (test)", "Wake-Sleep (train)", "AEVB (test)", "AEVB (train)"], "range": ["#1f8a1f", "#1f8a1f", "#ee1c1c", "#ee1c1c"]}, "legend": null},
         "strokeDash": {"field": "s", "type": "nominal", "scale": {"domain": ["Wake-Sleep (test)", "Wake-Sleep (train)", "AEVB (test)", "AEVB (train)"], "range": [[6, 4], [1, 0], [6, 4], [1, 0]]}, "legend": null}}},
        {"mark": {"type": "point", "opacity": 0},
         "encoding": {
         "x": {"field": "x", "type": "quantitative", "axis": {"orient": "top", "labels": false, "title": null, "values": [1e5,2e5,3e5,4e5,5e5,6e5,7e5,8e5,9e5,1e6,2e6,3e6,4e6,5e6,6e6,7e6,8e6,9e6,1e7,2e7,3e7,4e7,5e7,6e7,7e7,8e7,9e7,1e8], "tickSize": {"condition": {"test": "abs(log(datum.value)/LN10 - round(log(datum.value)/LN10)) < 0.001", "value": -4}, "value": -2}}},
         "y": {"field": "y", "type": "quantitative", "axis": {"orient": "right", "labels": false, "title": null, "values": [0, 200, 400, 600, 800, 1000, 1200, 1400, 1600]}}}}
       ]},
      {"width": 148, "height": 134, "view": {"stroke": "#2a2a2a", "strokeWidth": 1.3},
       "title": "Frey Face, 𝑁𝐳 =10",
       "data": {"name": "frey"}, "transform": [{"filter": "datum.nz == 10"}],
       "resolve": {"axis": {"x": "independent", "y": "independent"}},
       "layer": [
        {"mark": {"type": "line"},
         "encoding": {
         "x": {"field": "x", "type": "quantitative", "scale": {"type": "log", "domain": [1e5, 1e8], "nice": false}, "axis": {"values": [1e5,2e5,3e5,4e5,5e5,6e5,7e5,8e5,9e5,1e6,2e6,3e6,4e6,5e6,6e6,7e6,8e6,9e6,1e7,2e7,3e7,4e7,5e7,6e7,7e7,8e7,9e7,1e8], "labelExpr": "abs(log(datum.value)/LN10 - round(log(datum.value)/LN10)) < 0.001 ? '10' + substring('⁰¹²³⁴⁵⁶⁷⁸⁹', round(log(datum.value)/LN10), round(log(datum.value)/LN10)+1) : ''", "tickSize": {"condition": {"test": "abs(log(datum.value)/LN10 - round(log(datum.value)/LN10)) < 0.001", "value": -4}, "value": -2}, "title": null}},
         "y": {"field": "y", "type": "quantitative", "scale": {"domain": [0, 1600], "nice": false}, "axis": {"values": [0, 200, 400, 600, 800, 1000, 1200, 1400, 1600], "format": "d", "title": null}},
         "color": {"field": "s", "type": "nominal", "scale": {"domain": ["Wake-Sleep (test)", "Wake-Sleep (train)", "AEVB (test)", "AEVB (train)"], "range": ["#1f8a1f", "#1f8a1f", "#ee1c1c", "#ee1c1c"]}, "legend": null},
         "strokeDash": {"field": "s", "type": "nominal", "scale": {"domain": ["Wake-Sleep (test)", "Wake-Sleep (train)", "AEVB (test)", "AEVB (train)"], "range": [[6, 4], [1, 0], [6, 4], [1, 0]]}, "legend": null}}},
        {"mark": {"type": "point", "opacity": 0},
         "encoding": {
         "x": {"field": "x", "type": "quantitative", "axis": {"orient": "top", "labels": false, "title": null, "values": [1e5,2e5,3e5,4e5,5e5,6e5,7e5,8e5,9e5,1e6,2e6,3e6,4e6,5e6,6e6,7e6,8e6,9e6,1e7,2e7,3e7,4e7,5e7,6e7,7e7,8e7,9e7,1e8], "tickSize": {"condition": {"test": "abs(log(datum.value)/LN10 - round(log(datum.value)/LN10)) < 0.001", "value": -4}, "value": -2}}},
         "y": {"field": "y", "type": "quantitative", "axis": {"orient": "right", "labels": false, "title": null, "values": [0, 200, 400, 600, 800, 1000, 1200, 1400, 1600]}}}}
       ]},
      {"width": 148, "height": 134, "view": {"stroke": "#2a2a2a", "strokeWidth": 1.3},
       "title": "Frey Face, 𝑁𝐳 =20",
       "data": {"name": "frey"}, "transform": [{"filter": "datum.nz == 20"}],
       "resolve": {"axis": {"x": "independent", "y": "independent"}},
       "layer": [
        {"mark": {"type": "line"},
         "encoding": {
         "x": {"field": "x", "type": "quantitative", "scale": {"type": "log", "domain": [1e5, 1e8], "nice": false}, "axis": {"values": [1e5,2e5,3e5,4e5,5e5,6e5,7e5,8e5,9e5,1e6,2e6,3e6,4e6,5e6,6e6,7e6,8e6,9e6,1e7,2e7,3e7,4e7,5e7,6e7,7e7,8e7,9e7,1e8], "labelExpr": "abs(log(datum.value)/LN10 - round(log(datum.value)/LN10)) < 0.001 ? '10' + substring('⁰¹²³⁴⁵⁶⁷⁸⁹', round(log(datum.value)/LN10), round(log(datum.value)/LN10)+1) : ''", "tickSize": {"condition": {"test": "abs(log(datum.value)/LN10 - round(log(datum.value)/LN10)) < 0.001", "value": -4}, "value": -2}, "title": null}},
         "y": {"field": "y", "type": "quantitative", "scale": {"domain": [0, 1600], "nice": false}, "axis": {"values": [0, 200, 400, 600, 800, 1000, 1200, 1400, 1600], "format": "d", "title": null}},
         "color": {"field": "s", "type": "nominal", "scale": {"domain": ["Wake-Sleep (test)", "Wake-Sleep (train)", "AEVB (test)", "AEVB (train)"], "range": ["#1f8a1f", "#1f8a1f", "#ee1c1c", "#ee1c1c"]}, "legend": null},
         "strokeDash": {"field": "s", "type": "nominal", "scale": {"domain": ["Wake-Sleep (test)", "Wake-Sleep (train)", "AEVB (test)", "AEVB (train)"], "range": [[6, 4], [1, 0], [6, 4], [1, 0]]}, "legend": null}}},
        {"mark": {"type": "point", "opacity": 0},
         "encoding": {
         "x": {"field": "x", "type": "quantitative", "axis": {"orient": "top", "labels": false, "title": null, "values": [1e5,2e5,3e5,4e5,5e5,6e5,7e5,8e5,9e5,1e6,2e6,3e6,4e6,5e6,6e6,7e6,8e6,9e6,1e7,2e7,3e7,4e7,5e7,6e7,7e7,8e7,9e7,1e8], "tickSize": {"condition": {"test": "abs(log(datum.value)/LN10 - round(log(datum.value)/LN10)) < 0.001", "value": -4}, "value": -2}}},
         "y": {"field": "y", "type": "quantitative", "axis": {"orient": "right", "labels": false, "title": null, "values": [0, 200, 400, 600, 800, 1000, 1200, 1400, 1600]}}}}
       ]}
    ]
  }
  ]
 },
 {
  "bounds": "flush",
  "spacing": 28,
  "hconcat": [
   {"width": 215, "height": 10, "data": {"values": []}, "mark": "point"},
   {
    "width": 1020, "height": 222,
    "layer": [
      {"data": {"name": "caption"},
       "mark": {"type": "text", "align": "left", "baseline": "alphabetic", "font": "Liberation Serif", "fontSize": 25.5, "color": "#111"},
       "encoding": {"x": {"datum": 0, "type": "quantitative", "scale": {"domain": [0, 1]}, "axis": null},
                    "y": {"field": "line", "type": "ordinal", "scale": {"type": "point", "padding": 0.535}, "axis": null},
                    "text": {"field": "text"}}},
      {"data": {"values": [{"t": "CSDN @^_^linger^_^", "line": 8}]},
       "mark": {"type": "text", "align": "right", "baseline": "alphabetic", "font": "Liberation Sans", "fontSize": 15, "color": "#8a8a8a"},
       "encoding": {"x": {"datum": 0.975, "type": "quantitative", "axis": null}, "y": {"field": "line", "type": "ordinal", "axis": null}, "text": {"field": "t"}}}
    ]
   }
  ]
 }
]
}
